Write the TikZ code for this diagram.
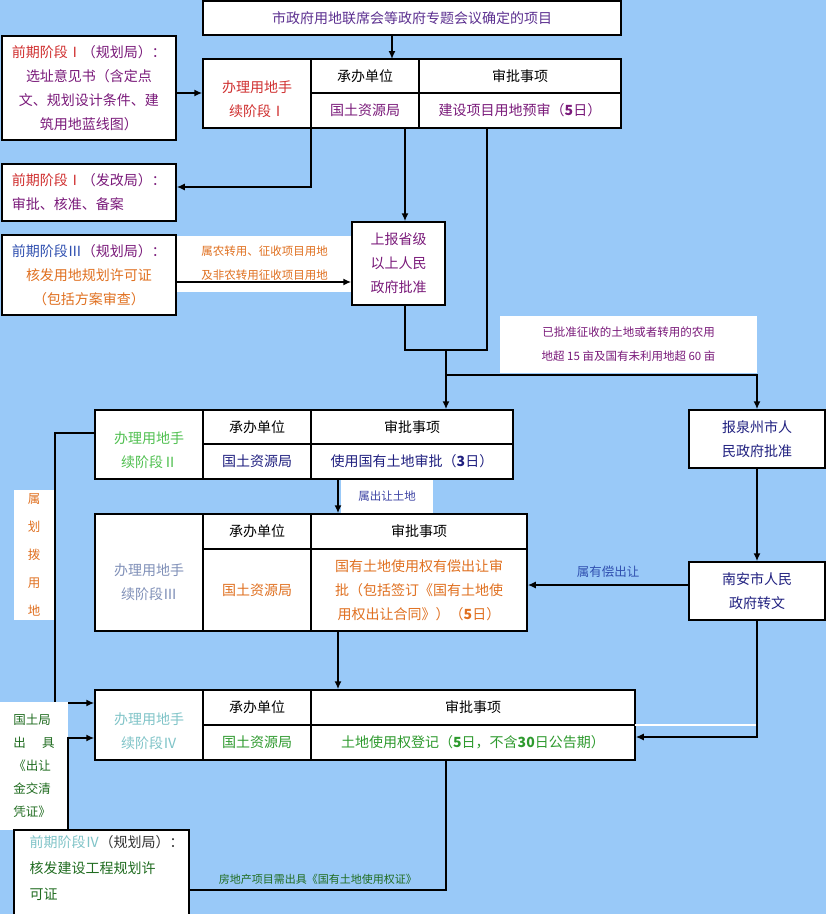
\documentclass[tikz,border=0pt]{standalone}
\usepackage{fontspec}
\setmainfont{Noto Sans CJK SC}
\usetikzlibrary{arrows.meta}
\definecolor{bg}{HTML}{99C9F8}
\definecolor{cred}{HTML}{D03030}
\definecolor{cpur}{HTML}{7A1A7A}
\definecolor{cblue}{HTML}{3050B0}
\definecolor{cdblue}{HTML}{202080}
\definecolor{corange}{HTML}{E07020}
\definecolor{cgreen}{HTML}{2E9A2E}
\definecolor{clgreen}{HTML}{50C050}
\definecolor{ccyan}{HTML}{80C4C8}
\definecolor{cgray}{HTML}{8090B8}
\tikzset{
  box/.style={draw=black,line width=1.5pt,fill=white,inner sep=1pt,align=center,font=\fontsize{14}{24}\selectfont},
  lab/.style={fill=white,inner sep=2pt,align=center},
  conn/.style={line width=1.5pt,-{Latex[length=8pt,width=7pt]}},
  plain/.style={line width=1.5pt},
}
\newcommand\bx[6][]{\node[box,minimum width={(#5-#3)*1pt},minimum height={(#6-#4)*1pt},#1] (#2) at ({(#3+#5)/2},{(#4+#6)/2}) {};}
\begin{document}
\begin{tikzpicture}[x=1pt,y=-1pt]
\fill[bg] (0,0) rectangle (826,914);
\useasboundingbox (0,0) rectangle (826,914);
% top
\bx{top}{203}{1}{621}{35}
\node[text=cpur!60!cblue,font=\fontsize{14}{16}\selectfont] at (top) {市政府用地联席会等政府专题会议确定的项目};
% stage I
\bx{a1}{203}{59}{311}{128}
\bx{a2}{311}{59}{419}{93}
\bx{a3}{419}{59}{621}{93}
\bx{a4}{311}{93}{419}{128}
\bx{a5}{419}{93}{621}{128}
\node[text=cred,align=center,font=\fontsize{14}{24}\selectfont] at ([yshift=-6]a1.center) {办理用地手\\续阶段Ⅰ};
\node[font=\fontsize{14}{16}\selectfont] at (a2) {承办单位};
\node[font=\fontsize{14}{16}\selectfont] at (a3) {审批事项};
\node[text=cpur,font=\fontsize{14}{16}\selectfont] at (a4) {国土资源局};
\node[text=cpur,font=\fontsize{14}{16}\selectfont] at (a5) {建设项目用地预审（\textbf{5}日）};
\draw[conn] (top.south -| 392,0) -- (392,59);
% left boxes
\bx{l1}{2}{36}{176}{140}
\node[align=center,font=\fontsize{14}{24}\selectfont,text=cpur] at (l1) {\textcolor{cred}{前期阶段Ⅰ}（规划局）：\\选址意见书（含定点\\文、规划设计条件、建\\筑用地蓝线图）};
\draw[conn] (l1.east |- 0,93) -- (a1.west |- 0,93);
\bx{l2}{2}{164}{176}{221}
\node[align=left,font=\fontsize{14}{24}\selectfont,text=cpur] at (l2) {\textcolor{cred}{前期阶段Ⅰ}（发改局）：\\审批、核准、备案};
\draw[conn] (a1.south -| 311,0) |- (l2.east |- 0,187);
\bx{l3}{2}{235}{176}{315}
\node[align=center,font=\fontsize{14}{24}\selectfont,text=corange] at (l3) {\textcolor{cblue}{前期阶段Ⅲ}\textcolor{cpur}{（规划局）：}\\核发用地规划许可证\\（包括方案审查）};
\node[lab,minimum width=175pt,minimum height=56pt,text=corange,font=\fontsize{11.5}{24}\selectfont] (lb1) at (264.5,263.5) {属农转用、征收项目用地\\及非农转用征收项目用地};
\bx{sb}{352}{222}{445}{305}
\node[text=cpur,align=center,font=\fontsize{14}{24}\selectfont] at (sb) {上报省级\\以上人民\\政府批准};
\draw[conn] (l3.east |- 0,282) -- (sb.west |- 0,282);
\draw[conn] (405,128) -- (sb.north -| 405,0);
% merge
\draw[plain] (sb.south -| 405,0) -- (405,350) -- (487,350) -- (487,128);
\node[lab,minimum width=257pt,minimum height=57pt,text=cpur,font=\fontsize{11.5}{24}\selectfont] (lb2) at (628.5,344.5) {已批准征收的土地或者转用的农用\\地超 15 亩及国有未利用地超 60 亩};
\coordinate (m) at (446,375);
\draw[plain] (446,350) -- (m);
% stage II
\bx{b1}{95}{410}{203}{479}
\bx{b2}{203}{410}{311}{444}
\bx{b3}{311}{410}{513}{444}
\bx{b4}{203}{444}{311}{479}
\bx{b5}{311}{444}{513}{479}
\node[text=clgreen,align=center,font=\fontsize{14}{24}\selectfont] at ([yshift=-6]b1.center) {办理用地手\\续阶段Ⅱ};
\node[font=\fontsize{14}{16}\selectfont] at (b2) {承办单位};
\node[font=\fontsize{14}{16}\selectfont] at (b3) {审批事项};
\node[text=cdblue,font=\fontsize{14}{16}\selectfont] at (b4) {国土资源局};
\node[text=cdblue,font=\fontsize{14}{16}\selectfont] at (b5) {使用国有土地审批（\textbf{3}日）};
\draw[conn] (m) -- (b3.north -| 446,0);
% right boxes
\bx{r1}{689}{410}{825}{468}
\node[text=cdblue,align=center,font=\fontsize{14}{24}\selectfont] at (r1) {报泉州市人\\民政府批准};
\draw[conn] (m) -- (757,375) -- (r1.north -| 757,0);
\bx{r2}{689}{562}{825}{620}
\node[text=cdblue,align=center,font=\fontsize{14}{24}\selectfont] at (r2) {南安市人民\\政府转文};
\draw[conn] (r1.south -| 757,0) -- (r2.north -| 757,0);
% stage III
\bx{c1}{95}{514}{203}{631}
\bx{c2}{203}{514}{311}{549}
\bx{c3}{311}{514}{527}{549}
\bx{c4}{203}{549}{311}{631}
\bx{c5}{311}{549}{527}{631}
\node[text=cgray,align=center,font=\fontsize{14}{24}\selectfont] at ([yshift=-10]c1.center) {办理用地手\\续阶段Ⅲ};
\node[font=\fontsize{14}{16}\selectfont] at (c2) {承办单位};
\node[font=\fontsize{14}{16}\selectfont] at (c3) {审批事项};
\node[text=corange,font=\fontsize{14}{16}\selectfont] at (c4) {国土资源局};
\node[text=corange,align=center,font=\fontsize{14}{24}\selectfont] at (c5) {国有土地使用权有偿出让审\\批（包括签订《国有土地使\\用权出让合同》）（\textbf{5}日）};
\node[lab,minimum width=92pt,minimum height=33pt,text=cblue!80!cpur,font=\fontsize{11.5}{14}\selectfont] (lb3) at (387,496.5) {属出让土地};
\draw[conn] (b4.south -| 338,0) -- (c3.north -| 338,0);
\draw[conn] (r2.west |- 0,585) -- node[above=3pt,text=cblue,font=\fontsize{12.5}{14}\selectfont] {属有偿出让} (c5.east |- 0,585);
% stage IV
\bx{d1}{95}{690}{203}{760}
\bx{d2}{203}{690}{311}{725}
\bx{d3}{311}{690}{635}{725}
\bx{d4}{203}{725}{311}{760}
\bx{d5}{311}{725}{635}{760}
\node[text=ccyan,align=center,font=\fontsize{14}{24}\selectfont] at ([yshift=-6]d1.center) {办理用地手\\续阶段Ⅳ};
\node[font=\fontsize{14}{16}\selectfont] at (d2) {承办单位};
\node[font=\fontsize{14}{16}\selectfont] at (d3) {审批事项};
\node[text=cgreen,font=\fontsize{14}{16}\selectfont] at (d4) {国土资源局};
\node[text=cgreen,font=\fontsize{14}{16}\selectfont] at (d5) {土地使用权登记（\textbf{5}日，不含\textbf{30}日公告期）};
\draw[conn] (c4.south -| 338,0) -- (d3.north -| 338,0);
\draw[white,line width=1.2pt] (635,725) -- (757,725);
\draw[conn] (r2.south -| 757,0) |- (d5.east |- 0,737);
% left side
\node[lab,minimum width=40pt,minimum height=130pt,text=corange,font=\fontsize{12.5}{28}\selectfont] (lb4) at (34,555) {属\\划\\拨\\用\\地};
\draw[conn] (b1.west |- 0,433) -- (55,433) -- (55,703) -- (d1.west |- 0,703);
\node[lab,minimum width=68pt,minimum height=128pt,text=cgreen!70!black,align=left,font=\fontsize{12.5}{23}\selectfont] (lb5) at (34,766) {国土局\\出\hspace{1.3em}具\\《出让\\金交清\\凭证》};
\bx{e1}{14}{830}{189}{920}
\node[align=left,text=cgreen!70!black,font=\fontsize{14}{26}\selectfont,anchor=north west] at (26,832) {\textcolor{ccyan}{前期阶段Ⅳ}\textcolor{black!80}{（规划局）：}\\核发建设工程规划许\\可证};
\draw[conn] (68,830) -- (68,738) -- (d1.west |- 0,738);
\draw[plain] (e1.east |- 0,890) -- node[above=1pt,text=cgreen!70!black,font=\fontsize{11}{13}\selectfont] {房地产项目需出具《国有土地使用权证》} (446,890) -- (d5.south -| 446,0);
\end{tikzpicture}
\end{document}
